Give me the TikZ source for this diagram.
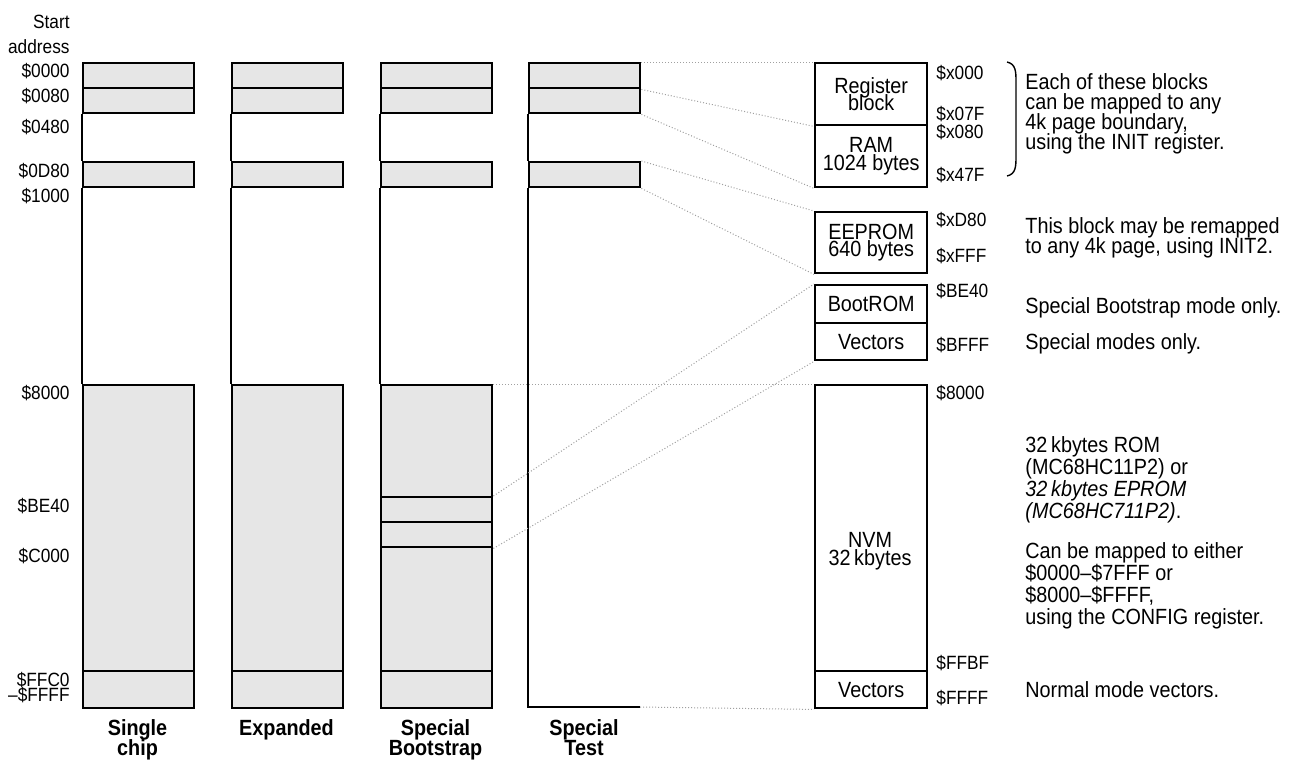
\documentclass[tikz,border=0pt]{standalone}
\usepackage{fontspec}
\setmainfont{Liberation Sans}[FakeStretch=0.9]
\usetikzlibrary{positioning}
\definecolor{memfill}{HTML}{E6E6E6}
\definecolor{linkc}{HTML}{A0A0A0}
\newcommand{\addrfont}{\fontsize{9.6}{12.5}\selectfont}
\newcommand{\notefont}{\fontsize{11}{10}\selectfont\lineskiplimit=-20pt}
\newcommand{\nvmfont}{\fontsize{11}{11}\selectfont\lineskiplimit=-20pt}
\newcommand{\boxfont}{\fontsize{11}{8.75}\selectfont\lineskiplimit=-20pt}
\newcommand{\modefont}{\bfseries\fontsize{11}{10}\selectfont\lineskiplimit=-20pt}
\tikzset{
  blk/.style={rectangle, draw=black, line width=1.2pt, fill=memfill, inner sep=0pt, minimum width=55.5pt, anchor=north west},
  mapbox/.style={rectangle, draw=black, line width=1.2pt, fill=white, inner sep=0pt, minimum width=56pt, anchor=north west, align=center, font=\boxfont},
  wire/.style={black, line width=1.2pt},
  link/.style={linkc, densely dotted, line width=0.5pt},
  addr/.style={font=\addrfont, inner sep=0pt, anchor=base west},
  laddr/.style={font=\addrfont, inner sep=0pt, anchor=base east, align=right},
  note/.style={font=\notefont, inner sep=0pt, anchor=base west, align=left},
  modelbl/.style={font=\modefont, inner sep=0pt, anchor=base, align=center},
}
\newcommand{\memblk}[4]{% name, x, top, bottom (pixels)
  \node[blk, minimum height={(#4-#3)*0.5pt}] (#1) at (#2,#3) {};}

\begin{document}
\begin{tikzpicture}[x=0.5pt, y=-0.5pt]
  \useasboundingbox (0,0) rectangle (1293,767);
  % mode columns
  \foreach \cx/\cn in {82/sc, 231/ex, 380/sb, 528/st} {
    \memblk{\cn reg}{\cx}{62}{87}
    \memblk{\cn ram}{\cx}{87}{112}
    \memblk{\cn eep}{\cx}{161}{186}
    \draw[wire] (\cn ram.south west) -- (\cn eep.north west);
  }
  \foreach \cx/\cn in {82/sc, 231/ex} {
    \memblk{\cn nvm}{\cx}{384}{670}
    \memblk{\cn vec}{\cx}{670}{707}
    \draw[wire] (\cn eep.south west) -- (\cn nvm.north west);
  }
  \memblk{sbrom}{380}{384}{496}
  \memblk{sbboot}{380}{496}{521}
  \memblk{sbbvec}{380}{521}{546}
  \memblk{sbnvm}{380}{546}{670}
  \memblk{sbvec}{380}{670}{707}
  \draw[wire] (sbeep.south west) -- (sbrom.north west);
  \coordinate (stfoot) at (528,707);
  \coordinate (stend) at (640,707);
  \draw[wire] (steep.south west) -- (stfoot) -- (stend);
  % memory blocks
  \node[mapbox, minimum height=31pt] (reg) at (814,62) {Register\\block};
  \node[mapbox, minimum height=31pt] (ram) at (814,124) {RAM\\1024 bytes};
  \node[mapbox, minimum height=30.5pt] (eep) at (814,211) {EEPROM\\640 bytes};
  \node[mapbox, minimum height=19pt] (boot) at (814,284) {BootROM};
  \node[mapbox, minimum height=18.5pt] (bvec) at (814,322) {Vectors};
  \node[mapbox, minimum height=143pt] (nvm) at (814,384) {};
  \node[mapbox, minimum height=18.5pt] (nvec) at (814,670) {Vectors};
  \node[font=\boxfont, align=center, inner sep=0pt, anchor=base] (nvmlbl) at (870,565) {NVM\\32\,kbytes};
  % mapping lines
  \draw[link] (streg.north east) -- (reg.north west);
  \draw[link] (streg.south east) -- (reg.south west);
  \draw[link] (stram.south east) -- (ram.south west);
  \draw[link] (steep.north east) -- (eep.north west);
  \draw[link] (steep.south east) -- (eep.south west);
  \draw[link] (sbboot.north east) -- (boot.north west);
  \draw[link] (sbbvec.south east) -- (bvec.south west);
  \draw[link] (sbrom.north east) -- (nvm.north west);
  \draw[link] (stend) -- (nvec.south west);
  % start addresses
  \node[laddr] (lstart) at (70,53) {Start\\address};
  \foreach \yy/\tx/\nm in {77/0000/a, 102/0080/b, 133/0480/c, 177/0D80/d, 202/1000/e, 399/8000/f, 512/BE40/g, 562/C000/h, 686/FFC0/i}
    \node[laddr] (l\nm) at (70,\yy) {\$\tx};
  \node[laddr] (lj) at (70,701) {--\$FFFF};
  % block addresses
  \foreach \yy/\tx/\nm in {79/x000/a, 120/x07F/b, 138/x080/c, 181/x47F/d, 226/xD80/e, 262/xFFF/f, 297/BE40/g, 351/BFFF/h, 399/8000/i, 669/FFBF/j, 704/FFFF/k}
    \node[addr] (r\nm) at (936,\yy) {\$\tx};
  \draw[line width=0.7pt] (1007,62) .. controls (1016,64) and (1016,72) .. (1016,82) -- (1016,156) .. controls (1016,166) and (1016,174) .. (1007,176);
  % notes
  \node[note] (n1) at (1025,149) {Each of these blocks\\can be mapped to any\\4k page boundary,\\using the INIT register.};
  \node[note] (n2) at (1025,253) {This block may be remapped\\to any 4k page, using INIT2.};
  \node[note] (n3) at (1025,313) {Special Bootstrap mode only.};
  \node[note] (n4) at (1025,349) {Special modes only.};
  \node[note, font=\nvmfont] (n5) at (1025,518) {32\,kbytes ROM\\(MC68HC11P2) or\\\textit{32\,kbytes EPROM}\\\textit{(MC68HC711P2)}.};
  \node[note, font=\nvmfont] (n6) at (1025,624) {Can be mapped to either\\\$0000--\$7FFF or\\\$8000--\$FFFF,\\using the CONFIG register.};
  \node[note] (n7) at (1025,697) {Normal mode vectors.};
  % mode names
  \node[modelbl] (msc) at (137.5,755) {Single\\chip};
  \node[modelbl] (mex) at (286.5,735) {Expanded};
  \node[modelbl] (msb) at (435.5,755) {Special\\Bootstrap};
  \node[modelbl] (mst) at (584,755) {Special\\Test};
\end{tikzpicture}
\end{document}
